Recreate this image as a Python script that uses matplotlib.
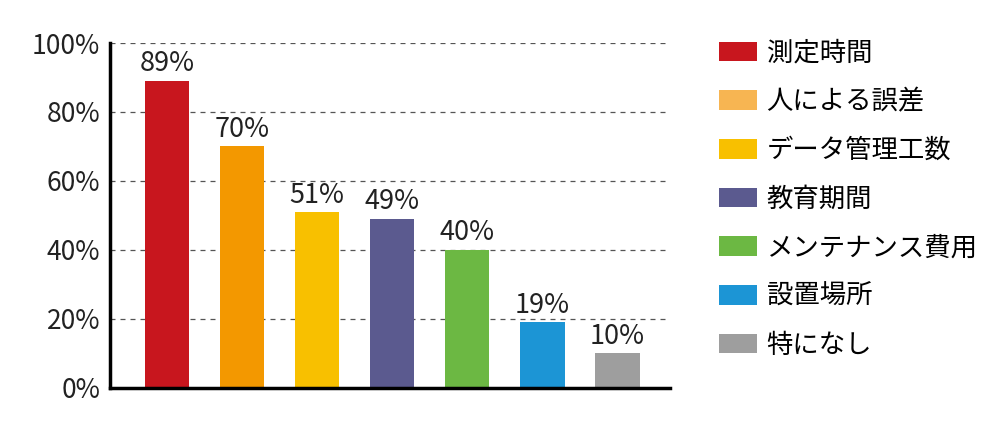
import matplotlib.pyplot as plt
from matplotlib.patches import Patch

plt.rcParams['font.family'] = ['Noto Sans CJK JP', 'DejaVu Sans']

categories = ['測定時間', '人による誤差', 'データ管理工数', '教育期間', 'メンテナンス費用', '設置場所', '特になし']
values = [89, 70, 51, 49, 40, 19, 10]
bar_colors = ['#c8161e', '#f39800', '#f8c000', '#5b5a8f', '#6cb843', '#1c95d5', '#9e9e9e']
legend_colors = ['#c8161e', '#f7b552', '#f8c000', '#5b5a8f', '#6cb843', '#1c95d5', '#9e9e9e']
yticks = [0, 20, 40, 60, 80, 100]

fig = plt.figure(figsize=(10, 4.3), dpi=100)
ax = fig.add_axes([0.110, 0.098, 0.560, 0.802])

x = list(range(len(values)))
ax.bar(x, values, width=0.59, color=bar_colors, zorder=3)
for xi, v in zip(x, values):
    ax.text(xi, v + 1.0, f'{v}%', ha='center', va='bottom', fontsize=19.5, color='#222222')

ax.set_ylim(0, 100)
ax.set_xlim(-0.76, 6.7)
ax.set_yticks(yticks)
ax.set_yticklabels([f'{t}%' for t in yticks], fontsize=19, color='#222222')
ax.set_xticks([])
ax.tick_params(axis='y', length=0, pad=7)
ax.yaxis.grid(True, linestyle=(0, (4, 4)), color='#555555', linewidth=0.9, zorder=0)

for side in ['top', 'right']:
    ax.spines[side].set_visible(False)
ax.spines['left'].set_linewidth(2.5)
ax.spines['bottom'].set_linewidth(2.5)
ax.spines['left'].set_zorder(4)
ax.spines['bottom'].set_zorder(4)

handles = [Patch(facecolor=c, edgecolor='none') for c in legend_colors]
fig.legend(handles, categories, loc='upper left', bbox_to_anchor=(0.708, 0.932),
           frameon=False, fontsize=19, handlelength=1.44, handleheight=0.76,
           labelspacing=0.82, handletextpad=0.38, borderaxespad=0)

fig.savefig('out.png', dpi=100)
